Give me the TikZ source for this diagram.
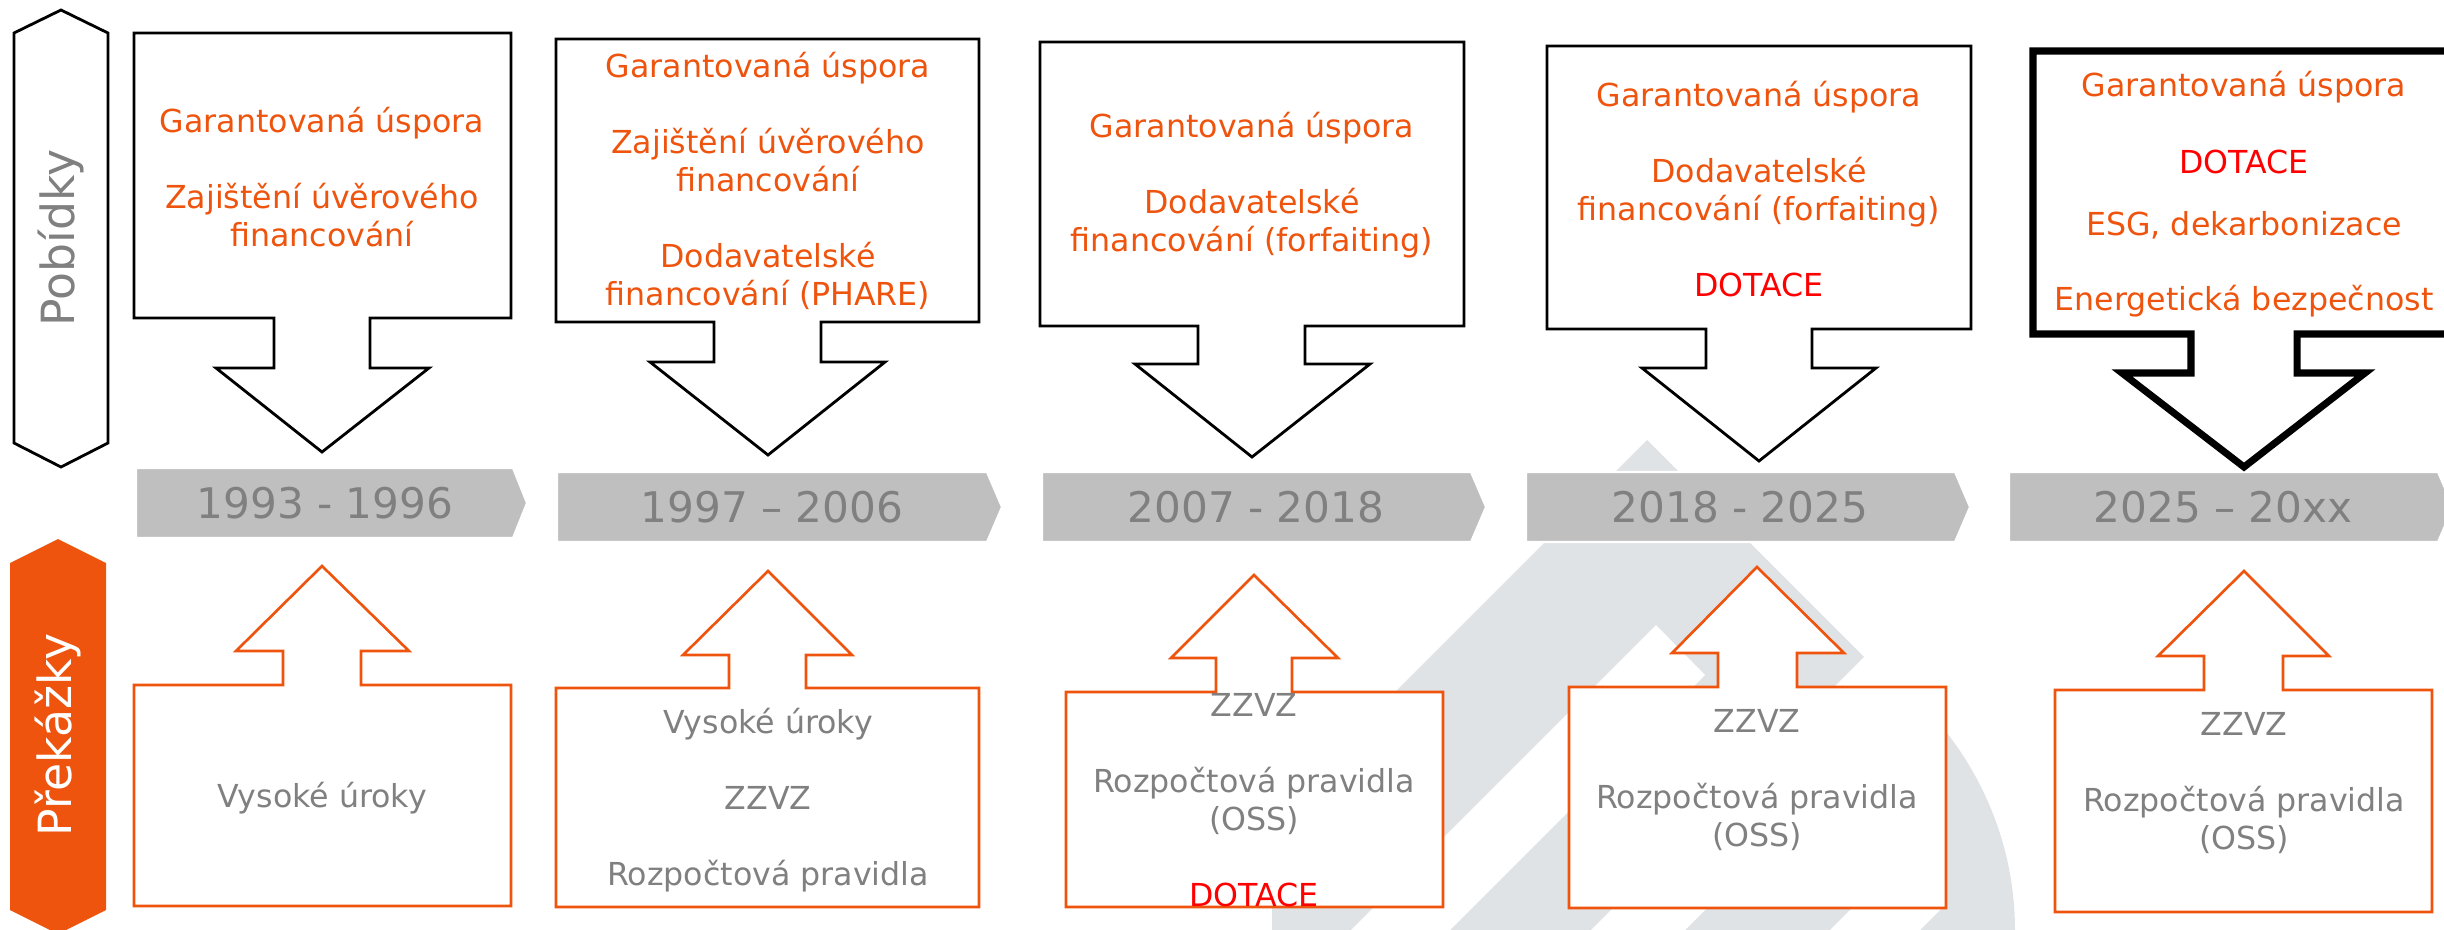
\documentclass[tikz,border=0pt]{standalone}
\usepackage{fontspec}
\setmainfont{DejaVu Sans}
\usepackage{tikz}
\definecolor{accent}{RGB}{238,84,14}
\definecolor{dotred}{RGB}{255,0,0}
\definecolor{txtgrey}{RGB}{128,128,128}
\definecolor{barfill}{RGB}{191,191,191}
\definecolor{logogrey}{RGB}{224,227,230}

\begin{document}
\begin{tikzpicture}[x=0.01cm,y=-0.01cm,
            offer/.style={draw=black,fill=white,line width=0.8pt},
            barrier/.style={draw=accent,fill=white,line width=0.75pt},
            period/.style={fill=barfill,draw=white,line width=0.6pt},
            yr/.style={text=txtgrey,font=\fontsize{12}{14}\selectfont},
            offertxt/.style={text=accent,align=center,font=\fontsize{9}{10.8}\selectfont},
            barriertxt/.style={text=txtgrey,align=center,font=\fontsize{9}{10.8}\selectfont},
            sidelabel/.style={rotate=90,font=\fontsize{13}{15}\selectfont}]
            \useasboundingbox (0,0) rectangle (2444,930);
            \fill[logogrey] (1272,930) -- (1272,815) -- (1647,440) -- (1864,657) .. controls (1957,717) and (2015,819) .. (2015,930) -- cycle;
            \fill[white] (1656,625) -- (1705,675) -- (1450,930) -- (1351,930) -- cycle;
            \fill[white] (1950,571) -- (2044,571) -- (1685,930) -- (1591,930) -- cycle;
            \fill[white] (1830,930) -- (1940,820) -- (1940,910) -- (1920,930) -- cycle;

            \draw[line width=0.8pt,fill=white] (61,10) -- (108,33) -- (108,443) -- (61,467) -- (14,443) -- (14,33) -- cycle;
            \fill[accent] (58,539) -- (106,563) -- (106,910) -- (58,934) -- (10,910) -- (10,563) -- cycle;
            \node[sidelabel,text=txtgrey] at (61,238) (pob) {Pobídky};
            \node[sidelabel,text=white] at (58,735) (pre) {Překážky};

            \draw[period] (136,468) -- (513,468) -- (527,503) -- (513,538) -- (136,538) -- cycle;
            \draw[period] (557,472) -- (987,472) -- (1002,507) -- (987,542) -- (557,542) -- cycle;
            \draw[period] (1042,472) -- (1471,472) -- (1486,507) -- (1471,542) -- (1042,542) -- cycle;
            \draw[period] (1526,472) -- (1955,472) -- (1970,507) -- (1955,542) -- (1526,542) -- cycle;
            \draw[period] (2009,472) -- (2438,472) -- (2453,507) -- (2438,542) -- (2009,542) -- cycle;
            \node[yr] at (325,503) (y1) {1993 - 1996};
            \node[yr] at (772,507) (y2) {1997 – 2006};
            \node[yr] at (1256,507) (y3) {2007 - 2018};
            \node[yr] at (1740,507) (y4) {2018 - 2025};
            \node[yr] at (2223,507) (y5) {2025 – 20xx};

            \draw[offer] (134,33) -- (511,33) -- (511,318) -- (370,318) -- (370,368) -- (429,368) -- (322,452) -- (216,368) -- (274,368) -- (274,318) -- (134,318) -- cycle;
            \draw[offer] (556,39) -- (979,39) -- (979,322) -- (821,322) -- (821,362) -- (885,362) -- (768,455) -- (650,362) -- (714,362) -- (714,322) -- (556,322) -- cycle;
            \draw[offer] (1040,42) -- (1464,42) -- (1464,326) -- (1305,326) -- (1305,364) -- (1370,364) -- (1252,457) -- (1135,364) -- (1198,364) -- (1198,326) -- (1040,326) -- cycle;
            \draw[offer] (1547,46) -- (1971,46) -- (1971,329) -- (1812,329) -- (1812,368) -- (1876,368) -- (1759,461) -- (1642,368) -- (1706,368) -- (1706,329) -- (1547,329) -- cycle;
            \draw[offer,line width=2pt] (2033,51) -- (2455,51) -- (2455,334) -- (2297,334) -- (2297,373) -- (2365,373) -- (2244,467) -- (2122,373) -- (2191,373) -- (2191,334) -- (2033,334) -- cycle;

            \node[offertxt] at (322,177) (o1) {Garantovaná úspora\\[10.8pt]Zajištění úvěrového\\financování};
            \node[offertxt] at (768,181) (o2) {Garantovaná úspora\\[10.8pt]Zajištění úvěrového\\financování\\[10.8pt]Dodavatelské\\financování (PHARE)};
            \node[offertxt] at (1252,185) (o3) {Garantovaná úspora\\[10.8pt]Dodavatelské\\financování (forfaiting)};
            \node[offertxt] at (1759,189) (o4) {Garantovaná úspora\\[10.8pt]Dodavatelské\\financování (forfaiting)\\[10.8pt]\textcolor{dotred}{DOTACE}};
            \node[offertxt] at (2244,194) (o5) {Garantovaná úspora\\[11pt]\textcolor{dotred}{DOTACE}\\[6.8pt]ESG, dekarbonizace\\[10.5pt]Energetická bezpečnost};

            \draw[barrier] (134,906) -- (134,685) -- (283,685) -- (283,651) -- (236,651) -- (322,566) -- (409,651) -- (361,651) -- (361,685) -- (511,685) -- (511,906) -- cycle;
            \draw[barrier] (556,907) -- (556,688) -- (729,688) -- (729,655) -- (683,655) -- (768,571) -- (852,655) -- (806,655) -- (806,688) -- (979,688) -- (979,907) -- cycle;
            \draw[barrier] (1066,907) -- (1066,692) -- (1216,692) -- (1216,658) -- (1171,658) -- (1254,575) -- (1338,658) -- (1292,658) -- (1292,692) -- (1443,692) -- (1443,907) -- cycle;
            \draw[barrier] (1569,908) -- (1569,687) -- (1718,687) -- (1718,653) -- (1672,653) -- (1757,567) -- (1844,653) -- (1797,653) -- (1797,687) -- (1946,687) -- (1946,908) -- cycle;
            \draw[barrier] (2055,912) -- (2055,690) -- (2204,690) -- (2204,656) -- (2158,656) -- (2244,571) -- (2329,656) -- (2283,656) -- (2283,690) -- (2432,690) -- (2432,912) -- cycle;

            \node[barriertxt] at (322,798) (b1) {Vysoké úroky};
            \node[barriertxt] at (768,800) (b2) {Vysoké úroky\\[10.8pt]ZZVZ\\[10.8pt]Rozpočtová pravidla};
            \node[barriertxt] at (1254,800) (b3) {ZZVZ\\[11pt]Rozpočtová pravidla\\(OSS)\\[10.8pt]\textcolor{dotred}{DOTACE}};
            \node[barriertxt] at (1757,780) (b4) {ZZVZ\\[11pt]Rozpočtová pravidla\\(OSS)};
            \node[barriertxt] at (2244,783) (b5) {ZZVZ\\[11pt]Rozpočtová pravidla\\(OSS)};
        \end{tikzpicture}
\end{document}
